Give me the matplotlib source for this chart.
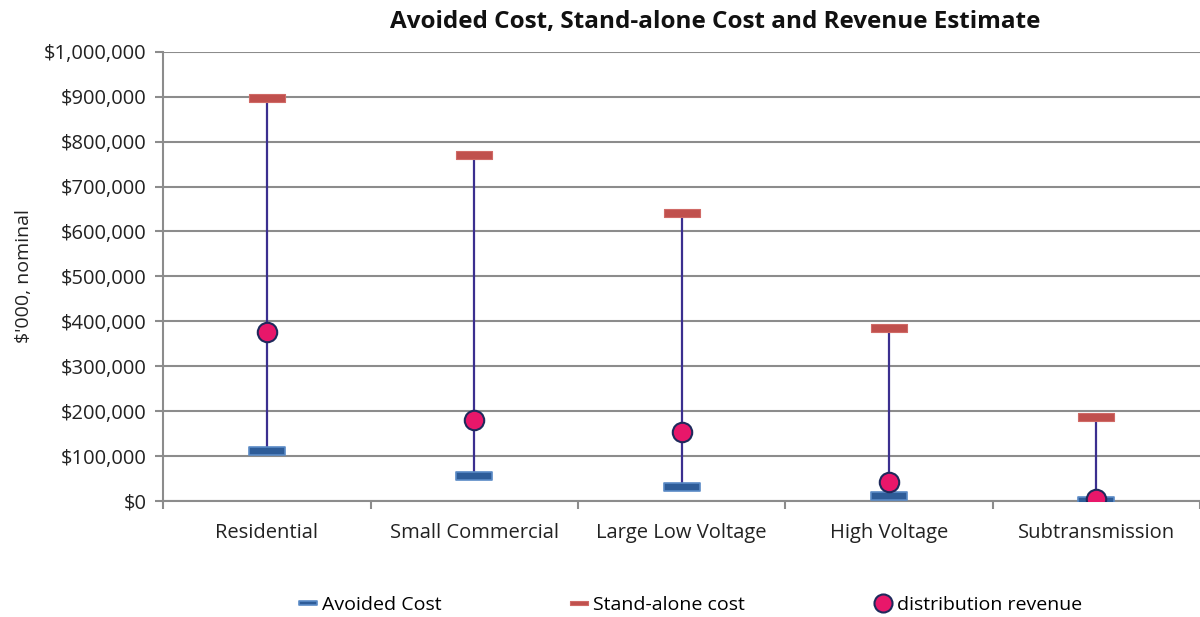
import matplotlib.pyplot as plt
from matplotlib.path import Path
from matplotlib.ticker import FuncFormatter, FixedLocator, NullFormatter

plt.rcParams['font.family'] = ['Open Sans', 'DejaVu Sans']

categories = ['Residential', 'Small Commercial', 'Large Low Voltage', 'High Voltage', 'Subtransmission']
avoided_cost = [111000, 56000, 31000, 11000, 1000]
standalone_cost = [898000, 771000, 642000, 386000, 187000]
distribution_revenue = [376000, 180000, 154000, 42000, 4000]

bar_marker = Path([(-1, -0.2), (1, -0.2), (1, 0.2), (-1, 0.2), (-1, -0.2)],
                  [Path.MOVETO, Path.LINETO, Path.LINETO, Path.LINETO, Path.CLOSEPOLY])

fig = plt.figure(figsize=(12, 6.17), dpi=100)
ax = fig.add_axes([0.136, 0.188, 0.864, 0.728])

x = list(range(len(categories)))

ax.vlines(x, avoided_cost, standalone_cost, color='#3B2F8F', linewidth=1.6, zorder=2)
ax.plot(x, avoided_cost, linestyle='none', marker=bar_marker, markersize=26,
        markerfacecolor='#2E5C98', markeredgecolor='#5A8AC6', markeredgewidth=1.2,
        label='Avoided Cost', zorder=3)
ax.plot(x, standalone_cost, linestyle='none', marker=bar_marker, markersize=26,
        markerfacecolor='#C0504D', markeredgecolor='#D06A66', markeredgewidth=0.8,
        label='Stand-alone cost', zorder=3)
ax.plot(x, distribution_revenue, linestyle='none', marker='o', markersize=14,
        markerfacecolor='#E8176A', markeredgecolor='#1F2A5C', markeredgewidth=1.5,
        label='distribution revenue', zorder=4)

ax.set_xlim(-0.5, len(categories) - 0.5)
ax.set_ylim(0, 1000000)
ax.set_yticks(range(0, 1000001, 100000))
ax.yaxis.set_major_formatter(FuncFormatter(lambda v, p: '${:,.0f}'.format(v)))
ax.yaxis.grid(True, color='#8C8C8C', linewidth=1.5)
ax.set_axisbelow(True)

ax.xaxis.set_major_locator(FixedLocator([i + 0.5 for i in range(-1, len(categories))]))
ax.xaxis.set_major_formatter(NullFormatter())
ax.xaxis.set_minor_locator(FixedLocator(x))
ax.set_xticklabels(categories, minor=True)
ax.tick_params(axis='x', which='minor', length=0, pad=16, labelsize=14.5, labelcolor='#222222')
ax.tick_params(axis='x', which='major', length=6, color='#8C8C8C', width=1.5)
ax.tick_params(axis='y', length=6, color='#8C8C8C', width=1.5, labelsize=14.5, labelcolor='#222222', pad=6)

for s in ['top', 'right']:
    ax.spines[s].set_visible(False)
for s in ['left', 'bottom']:
    ax.spines[s].set_color('#8C8C8C')
    ax.spines[s].set_linewidth(1.5)

ax.set_ylabel("$'000, nominal", fontsize=14, labelpad=8, color='#222222')
fig.text(0.596, 0.965, 'Avoided Cost, Stand-alone Cost and Revenue Estimate',
         ha='center', va='center', fontsize=17.5, fontweight='bold', color='#111111')

leg = fig.legend(loc='center', bbox_to_anchor=(0.575, 0.019), ncol=3, frameon=False,
                 fontsize=14, columnspacing=6.6, handletextpad=0.2, handlelength=1.0,
                 markerscale=0.5)
leg.legend_handles[2].set_markersize(13)

plt.savefig('out.png', dpi=100)
